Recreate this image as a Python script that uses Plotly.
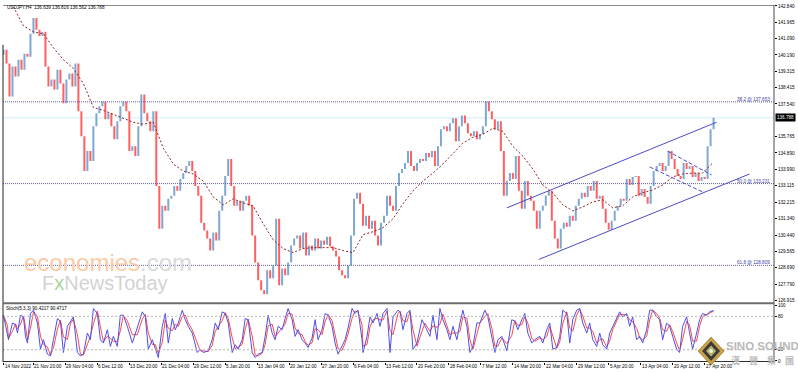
import plotly.graph_objects as go
import pandas as pd

# ---------------- data ----------------
# H4 closes, one value every 3 bars (bar index = 3*i)
closes = [140.47, 139.72, 137.94, 139.56, 139.02, 139.93, 139.39, 140.25, 140.09, 141.33,
          142.19, 141.55, 141.22, 141.44, 139.56, 138.48, 138.86, 138.32, 139.39, 138.64,
          137.57, 138.86, 139.18, 138.48, 139.72, 137.14, 135.79, 133.91, 134.99, 134.45,
          136.33, 137.03, 137.41, 137.67, 136.71, 137.03, 136.33, 135.63, 136.60, 137.41,
          137.67, 137.14, 134.99, 135.25, 134.72, 136.33, 138.05, 137.03, 136.60, 136.06,
          137.14, 133.10, 130.79, 132.03, 131.76, 132.41, 132.57, 133.10, 132.84, 133.48,
          133.80, 134.18, 134.45, 133.91, 133.10, 132.57, 131.12, 130.69, 130.26, 129.61,
          130.58, 130.15, 131.76, 132.57, 133.64, 134.56, 133.10, 132.03, 132.30, 131.76,
          132.30, 132.57, 132.03, 130.42, 128.97, 128.00, 127.46, 127.25, 128.54, 128.11,
          128.80, 131.33, 127.73, 128.64, 128.27, 128.97, 129.88, 130.26, 130.42, 129.72,
          130.58, 129.34, 129.88, 129.61, 130.26, 129.72, 130.15, 129.93, 130.36, 129.83,
          129.61, 129.29, 128.54, 128.27, 128.11, 128.80, 130.42, 132.41, 132.73, 132.14,
          130.95, 131.49, 130.79, 131.22, 130.42, 129.88, 131.12, 131.49, 132.57, 132.03,
          131.76, 133.10, 133.80, 134.02, 134.34, 134.99, 134.18, 133.91, 134.34, 134.56,
          134.45, 134.88, 134.66, 134.99, 134.18, 135.25, 136.17, 136.33, 136.06, 136.49,
          136.76, 135.52, 136.33, 136.92, 136.49, 135.95, 135.79, 136.06, 135.63, 135.90,
          136.33, 137.67, 137.14, 136.71, 136.17, 136.60, 134.99, 132.57, 133.37, 133.80,
          133.48, 134.72, 132.84, 131.87, 133.37, 132.57, 132.30, 131.76, 130.79, 131.76,
          132.03, 132.57, 132.84, 131.22, 130.26, 129.72, 130.79, 131.12, 130.90, 131.49,
          131.22, 132.03, 132.41, 132.73, 132.51, 133.10, 132.84, 133.37, 132.41, 132.57,
          131.87, 131.12, 130.74, 131.22, 131.76, 132.03, 132.41, 132.30, 133.48, 133.16,
          133.59, 133.64, 132.57, 132.94, 132.51, 132.14, 133.10, 133.91, 134.18, 134.34,
          133.91, 134.18, 134.99, 134.56, 134.02, 133.64, 133.48, 134.34, 134.02, 134.18,
          133.59, 133.80, 133.37, 133.59, 133.48, 135.25, 136.17, 136.79]
first_open = 140.20
bar_step = 3

# moving average (dotted dark red), value every 10 bars
ma_step = 10
ma_vals = [143.48, 142.78, 141.76, 141.44, 141.33, 140.58, 139.93, 139.45, 138.64, 137.35,
           137.19, 136.98, 136.76, 136.55, 136.44, 136.55, 135.15, 134.29, 133.91, 133.75,
           133.37, 132.51, 132.08, 132.41, 132.19, 132.03, 131.06, 130.20, 129.72, 129.50,
           129.72, 129.77, 129.77, 129.77, 129.61, 129.50, 130.47, 130.63, 130.85, 131.33,
           132.14, 132.84, 133.37, 133.80, 134.29, 134.88, 135.42, 135.74, 135.90, 136.22,
           136.06, 135.25, 134.72, 134.02, 133.16, 132.73, 132.08, 131.76, 131.97, 132.24,
           132.35, 131.92, 132.03, 132.51, 132.73, 132.89, 133.16, 133.59, 133.75, 133.80,
           133.80, 134.34]

# Stochastic %K readings (bar, value)
stoch_bar = [0, 4, 5, 9, 12, 14, 17, 20, 22, 24, 27, 30, 34, 37, 40, 44, 47, 50, 54, 57,
             60, 64, 67, 70, 74, 77, 80, 84, 87, 90, 94, 97, 100, 104, 107, 110, 114, 117, 120, 124,
             129, 134, 139, 142, 145, 149, 152, 155, 159, 162, 165, 169, 172, 175, 179, 182, 185, 189, 194, 197,
             200, 205, 209, 212, 215, 219, 222, 225, 229, 232, 235, 239, 242, 245, 249, 252, 255, 259, 262, 265,
             269, 272, 275, 279, 282, 285, 289, 292, 295, 299, 302, 305, 309, 312, 315, 319, 322, 325, 329, 332,
             335, 339, 342, 345, 349, 352, 355, 359, 360, 364, 367, 370, 374, 377, 380, 384, 387, 390, 395,
             397, 400, 404, 407, 410, 414, 419, 422, 427, 430, 434, 437, 440, 444, 447, 450, 454, 457, 460, 464,
             467, 470, 474, 477, 482, 485, 489, 492, 495, 499, 504, 509, 512, 515, 519, 522, 525, 529, 532, 537,
             540, 544, 547, 550, 554, 557, 560, 564, 567, 570, 574, 577, 580, 584, 587, 590, 594, 597, 600, 604,
             607, 610, 614, 617, 620, 624, 627, 630, 634, 637, 640, 644, 647, 650, 654, 657, 660, 664, 667, 670,
             674, 677, 680, 684, 687, 690, 694, 697, 700, 704, 707, 711]
stoch_k = [82, 44, 38, 68, 65, 50, 82, 79, 44, 32, 85, 91, 68, 21, 38, 12, 9, 38, 76, 71,
           15, 62, 71, 79, 15, 9, 12, 50, 38, 94, 85, 38, 32, 56, 26, 44, 26, 82, 82, 62,
           32, 62, 88, 79, 21, 38, 21, 6, 62, 85, 32, 76, 56, 68, 91, 74, 62, 50, 15, 21,
           15, 18, 38, 68, 56, 88, 85, 68, 15, 29, 21, 38, 76, 74, 15, 6, 12, 15, 44, 82,
           50, 38, 62, 56, 76, 94, 74, 44, 56, 38, 32, 24, 41, 74, 38, 56, 85, 82, 62, 32,
           12, 26, 38, 59, 94, 85, 91, 38, 15, 44, 79, 68, 85, 62, 85, 94, 15, 79, 91,
           88, 56, 85, 91, 21, 32, 74, 62, 44, 82, 38, 94, 74, 56, 38, 62, 38, 68, 91, 62,
           15, 26, 68, 68, 91, 79, 38, 15, 38, 44, 18, 74, 71, 56, 74, 85, 50, 32, 38, 44,
           32, 56, 68, 21, 24, 44, 91, 85, 32, 74, 91, 94, 68, 50, 68, 38, 26, 50, 29, 21,
           50, 62, 79, 88, 79, 85, 62, 79, 38, 44, 32, 56, 91, 91, 79, 74, 38, 68, 62, 44,
           21, 15, 62, 79, 50, 21, 50, 74, 85, 82, 88, 90.42]

# channel / trend lines: (start bar, end bar), (start price, end price)
upper_ch_bar, upper_ch_px = [504, 714], [131.92, 136.55]
lower_ch_bar, lower_ch_px = [536, 747], [129.13, 133.75]
small_up_bar, small_up_px = [665, 709], [134.99, 133.70]
small_lo_bar, small_lo_px = [647, 700], [134.13, 132.78]

fib_levels = [137.653, 133.231, 128.809]
fib_labels = ["38.2 @ 137.653", "50.0 @ 133.231", "61.8 @ 128.809"]
last_price = 136.788

price_ticks = [142.840, 141.965, 141.090, 140.190, 139.315, 138.415, 137.540,
               135.765, 134.890, 133.990, 133.115, 132.215, 131.340, 130.440, 129.565,
               128.690, 127.790, 126.915]
stoch_ticks = [100, 80, 20, 0]
time_labels = ["14 Nov 2022", "21 Nov 20:00", "29 Nov 04:00", "6 Dec 12:00", "13 Dec 20:00",
               "21 Dec 04:00", "29 Dec 12:00", "5 Jan 20:00", "13 Jan 04:00", "20 Jan 12:00",
               "27 Jan 20:00", "6 Feb 04:00", "13 Feb 12:00", "20 Feb 20:00", "28 Feb 04:00",
               "7 Mar 12:00", "14 Mar 20:00", "22 Mar 04:00", "29 Mar 12:00", "5 Apr 20:00",
               "13 Apr 04:00", "20 Apr 12:00", "27 Apr 20:00"]
label_first_bar, label_offset, label_every = 0, 30, 32

# ---------------- derived ----------------
bars = [i * bar_step for i in range(len(closes))]
opens = [first_open] + closes[:-1]
highs = [max(o, c) for o, c in zip(opens, closes)]
lows = [min(o, c) for o, c in zip(opens, closes)]
ma_bar = [i * ma_step for i in range(len(ma_vals))]
stoch_d = pd.Series(stoch_k).rolling(2, min_periods=1).mean().tolist()
time_bars = [label_first_bar] + [label_offset + label_every * k for k in range(len(time_labels) - 1)]

# ---------------- layout helpers (pixel -> paper) ----------------
W, H = 798, 372
PL, PR, PT, PB = 3, 775, 3, 362
def fx(p):
    return (p - PL) / (PR - PL)
def fy(p):
    return (PB - p) / (PB - PT)

FONT = "Liberation Sans"
FS = 4.6
BLUE_LINE = "#4b4bc6"

fig = go.Figure()
fig.add_trace(go.Ohlc(x=bars, open=opens, high=highs, low=lows, close=closes,
                      increasing=dict(line=dict(color="#7ea7d2", width=2)),
                      decreasing=dict(line=dict(color="#ff5f5f", width=2)),
                      tickwidth=0, xaxis="x", yaxis="y", hoverinfo="skip"))
fig.add_trace(go.Scatter(x=ma_bar, y=ma_vals, mode="lines",
                         line=dict(color="#8b2525", width=1, dash="2px,2px"),
                         xaxis="x", yaxis="y", hoverinfo="skip"))
for bx, py, dash in [(upper_ch_bar, upper_ch_px, "solid"), (lower_ch_bar, lower_ch_px, "solid"),
                     (small_up_bar, small_up_px, "4px,2px"), (small_lo_bar, small_lo_px, "4px,2px")]:
    fig.add_trace(go.Scatter(x=bx, y=py, mode="lines", line=dict(color=BLUE_LINE, width=1, dash=dash),
                             xaxis="x", yaxis="y", hoverinfo="skip", cliponaxis=False))
fig.add_trace(go.Scatter(x=stoch_bar, y=stoch_d, mode="lines", line=dict(color="#ff4848", width=1),
                         xaxis="x2", yaxis="y2", hoverinfo="skip"))
fig.add_trace(go.Scatter(x=stoch_bar, y=stoch_k, mode="lines", line=dict(color="#4f4fe8", width=1),
                         xaxis="x2", yaxis="y2", hoverinfo="skip"))

shapes = []
shapes.append(dict(type="line", xref="paper", x0=0, x1=1, yref="y", y0=last_price, y1=last_price,
                   line=dict(color="#cdeef5", width=1), layer="below"))
for lv in fib_levels:
    shapes.append(dict(type="line", xref="paper", x0=0, x1=1, yref="y", y0=lv, y1=lv,
                       line=dict(color="#5c5cc0", width=1, dash="1px,1px")))
for lv in (80, 20):
    shapes.append(dict(type="line", xref="paper", x0=0, x1=1, yref="y2", y0=lv, y1=lv,
                       line=dict(color="#b5b5b5", width=1, dash="2px,2px")))
shapes.append(dict(type="line", xref="paper", yref="paper", x0=0, x1=1, y0=fy(3.5), y1=fy(3.5),
                   line=dict(color="#8a8a8a", width=1)))
shapes.append(dict(type="line", xref="paper", yref="paper", x0=1, x1=1, y0=fy(3), y1=fy(362),
                   line=dict(color="#4a4a4a", width=1)))
shapes.append(dict(type="line", xref="paper", yref="paper", x0=0, x1=0, y0=fy(43), y1=fy(362),
                   line=dict(color="#222222", width=1)))
shapes.append(dict(type="line", xref="paper", yref="paper", x0=0, x1=1, y0=fy(303), y1=fy(303),
                   line=dict(color="#6e6e6e", width=2)))
shapes.append(dict(type="line", xref="paper", yref="paper", x0=0, x1=1, y0=fy(361.5), y1=fy(361.5),
                   line=dict(color="#303030", width=1)))
cx, cy = 712, 351
def diamond(hw, hh):
    return (f"M {fx(cx)} {fy(cy - hh)} L {fx(cx + hw)} {fy(cy)} L {fx(cx)} {fy(cy + hh)} "
            f"L {fx(cx - hw)} {fy(cy)} Z")
shapes.append(dict(type="path", xref="paper", yref="paper", path=diamond(13, 14),
                   fillcolor="#c9a24a", line=dict(color="#a88432", width=1)))
shapes.append(dict(type="path", xref="paper", yref="paper", path=diamond(9, 10),
                   fillcolor="#3b3b3b", line=dict(width=0)))
shapes.append(dict(type="path", xref="paper", yref="paper", path=diamond(5, 5.5),
                   fillcolor="#d2b460", line=dict(width=0)))
shapes.append(dict(type="circle", xref="paper", yref="paper", x0=fx(cx - 2.5), x1=fx(cx + 2.5),
                   y0=fy(cy + 2.5), y1=fy(cy - 2.5), fillcolor="#e8f2dc", line=dict(color="#7fae6a", width=0.8)))

ann = []
ann.append(dict(x=fx(5), y=fy(6), xref="paper", yref="paper", xanchor="left", yanchor="middle",
                text="USDJPY,H4  136.639 136.816 136.562 136.788", showarrow=False,
                font=dict(family=FONT, size=FS, color="#000000")))
ann.append(dict(x=fx(4), y=fy(308), xref="paper", yref="paper", xanchor="left", yanchor="middle",
                text="Stoch(5,3,3) 90.4217 90.4717", showarrow=False,
                font=dict(family=FONT, size=FS, color="#000000")))
for lv, lab in zip(fib_levels, fib_labels):
    ann.append(dict(x=fx(772), y=lv, xref="paper", yref="y", xanchor="right", yanchor="bottom",
                    text=lab, showarrow=False, borderpad=0, yshift=-1,
                    font=dict(family=FONT, size=FS, color="#3c3ca8")))
ann.append(dict(x=fx(776), y=last_price, xref="paper", yref="y", xanchor="left", yanchor="middle",
                text="136.788", showarrow=False, bgcolor="#000000", borderpad=1,
                font=dict(family=FONT, size=FS, color="#ffffff")))
for tb, tl in zip(time_bars, time_labels):
    ann.append(dict(x=tb, y=fy(366.5), xref="x2", yref="paper", xanchor="left", yanchor="middle",
                    text=tl, showarrow=False, borderpad=0,
                    font=dict(family=FONT, size=FS, color="#000000")))
ann.append(dict(x=fx(22), y=fy(262), xref="paper", yref="paper", xanchor="left", yanchor="middle",
                text="<span style='color:#fcc9a2'>economies</span><span style='color:#d9d9d9'>.com</span>",
                showarrow=False, font=dict(family="Liberation Sans", size=24)))
ann.append(dict(x=fx(40), y=fy(283), xref="paper", yref="paper", xanchor="left", yanchor="middle",
                text="F<span style='color:#a9d59a'>x</span>NewsToday",
                showarrow=False, font=dict(family="Liberation Sans", size=20, color="#d3d3d3")))
ann.append(dict(x=fx(763), y=fy(346), xref="paper", yref="paper", xanchor="center", yanchor="middle",
                text="<b>SINO SOUND</b>", showarrow=False,
                font=dict(family="Liberation Sans", size=11.5, color="#b9b9b9")))
ann.append(dict(x=fx(763), y=fy(360), xref="paper", yref="paper", xanchor="center", yanchor="middle",
                text="<b>漢　聲　集　團</b>", showarrow=False,
                font=dict(family="Noto Sans CJK TC", size=9, color="#b9b9b9")))

axis_common = dict(showgrid=False, zeroline=False, showline=False)
fig.update_layout(
    width=W, height=H,
    margin=dict(l=PL, r=W - PR, t=PT, b=H - PB, pad=0),
    paper_bgcolor="#ffffff", plot_bgcolor="#ffffff",
    showlegend=False, hovermode=False,
    xaxis=dict(domain=[0, 1], range=[-0.5, PR - PL - 0.5], showticklabels=False, ticks="",
               anchor="y", rangeslider=dict(visible=False), **axis_common),
    xaxis2=dict(domain=[0, 1], range=[-0.5, PR - PL - 0.5], matches="x", anchor="y2",
                tickvals=time_bars, showticklabels=False, ticks="outside", ticklen=2,
                tickcolor="#000000", tickwidth=1, **axis_common),
    yaxis=dict(domain=[fy(302), 1], range=[126.81, 142.89], side="right", anchor="x",
               tickvals=price_ticks, ticktext=[f"{v:.3f}" for v in price_ticks],
               ticks="outside", ticklen=2, tickcolor="#000000",
               tickfont=dict(family=FONT, size=FS, color="#000000"), **axis_common),
    yaxis2=dict(domain=[0, fy(304)], range=[-2, 101.5], side="right", anchor="x2",
                tickvals=stoch_ticks, ticks="outside", ticklen=2, tickcolor="#000000",
                tickfont=dict(family=FONT, size=FS, color="#000000"), **axis_common),
    shapes=shapes, annotations=ann,
)

fig.write_html("out.html", config={"displayModeBar": False, "staticPlot": True},
               post_script="document.body.style.margin='0';document.body.style.overflow='hidden';")
